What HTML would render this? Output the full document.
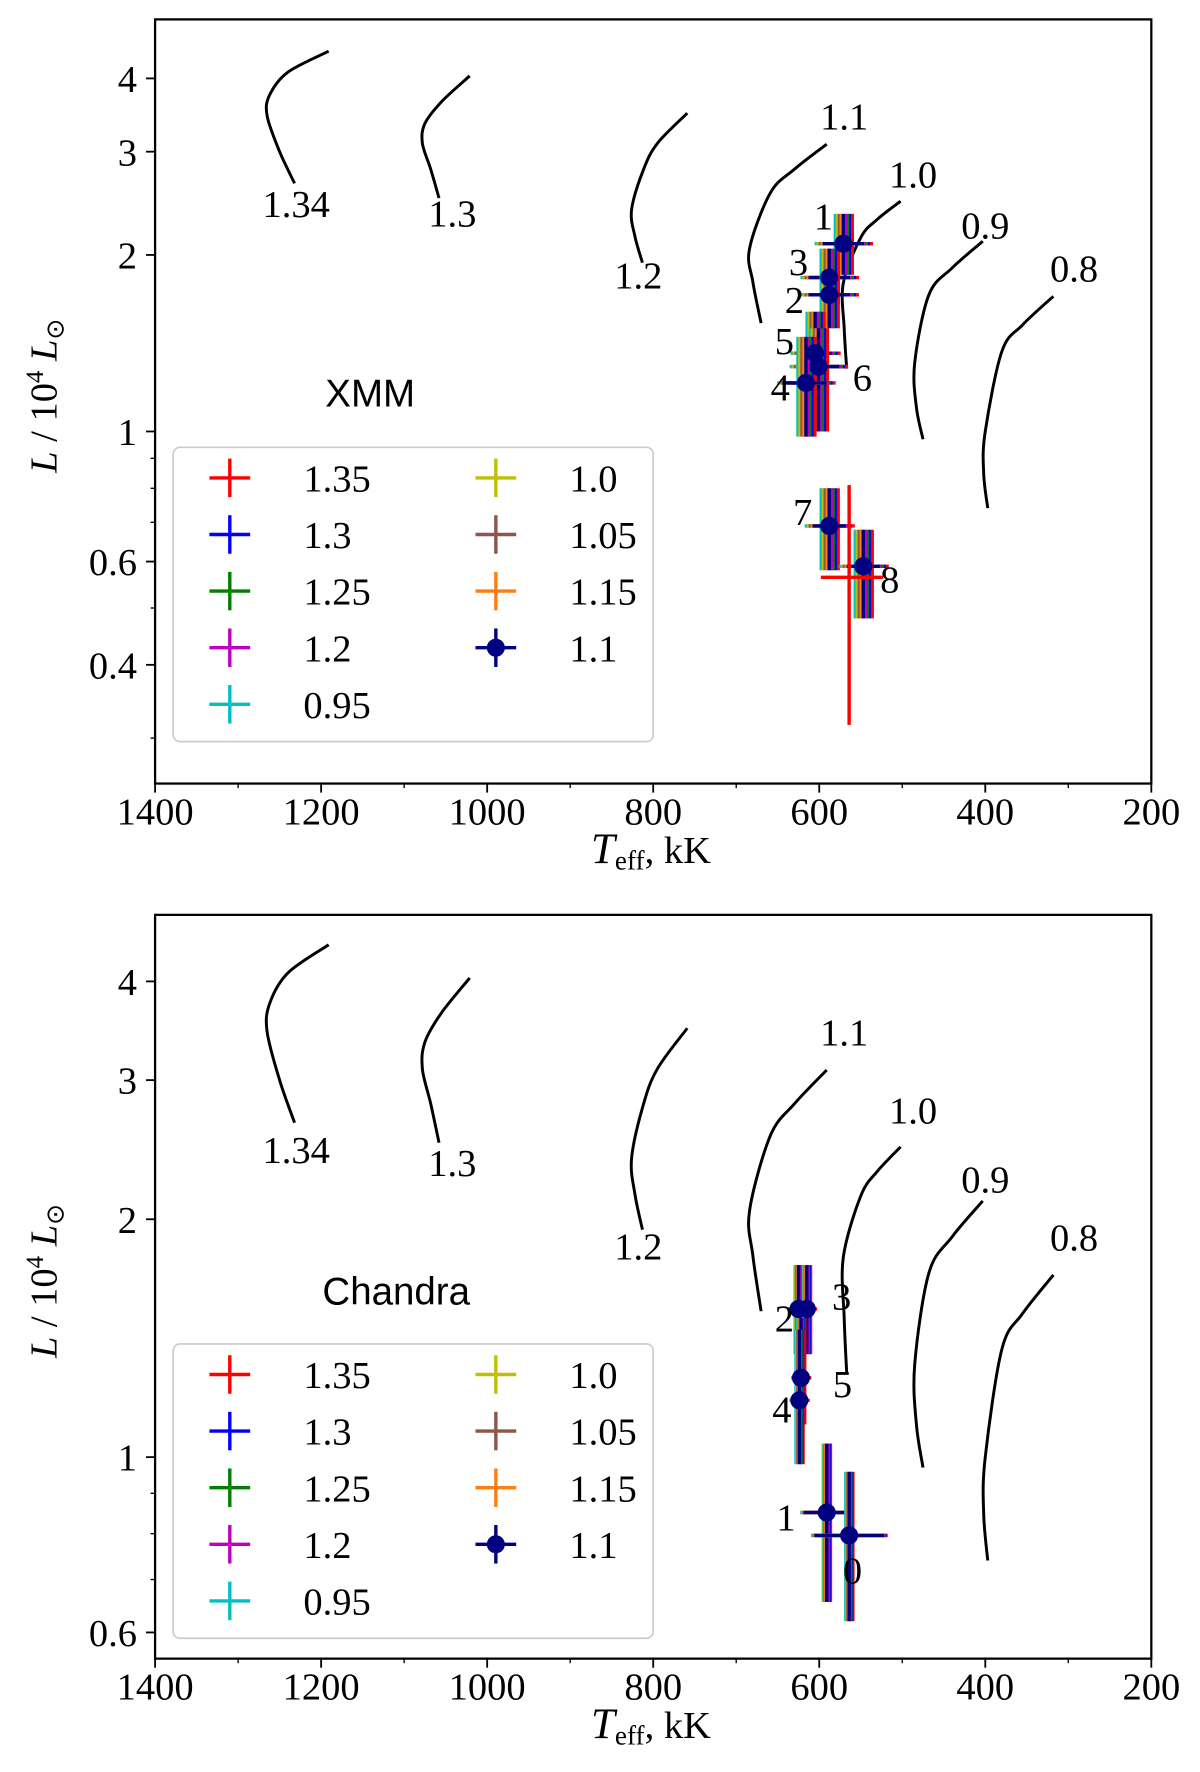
<!DOCTYPE html>
<html><head><meta charset="utf-8">
<style>
html,body{margin:0;padding:0;background:#fff;}
svg{display:block;}
.tk{font-family:"Liberation Serif",serif;font-size:34px;fill:#000;}
.lab{font-family:"Liberation Serif",serif;font-size:34px;fill:#000;}
.ss{font-family:"Liberation Sans",sans-serif;font-size:34px;fill:#000;}
</style></head>
<body>
<svg id="fig" width="1200" height="1772" viewBox="0 0 1060 1565" xmlns="http://www.w3.org/2000/svg"></svg>
<script>
const models=['1.35','1.3','1.25','1.2','0.95','1.0','1.05','1.15','1.1'];
const modelColors=['#ff0000','#0000ff','#008000','#c000c0','#00c0c0','#c0c000','#8c564b','#ff7f0e','#000080'];
const modelTShift=[-18,-12,-8,-4,16,12,8,4,0];
const trackNames=['1.34','1.3','1.2','1.1','1.0','0.9','0.8'];
const trackT=[[1191,1240,1262,1265,1250,1232],[1021,1055,1075,1078,1068,1058],[759,795,812,826,822,813],[591,630,659,684,680,670],[502,530,550,571,570,567],[403,440,468,485,483,475],[318,355,380,400,402,397]];
const trackL=[[4.45,4.1,3.75,3.45,3.0,2.65],[4.04,3.65,3.35,3.1,2.8,2.5],[3.49,3.1,2.79,2.39,2.15,1.94],[3.09,2.8,2.55,2.05,1.8,1.53],[2.47,2.3,2.14,1.79,1.5,1.28],[2.11,1.9,1.71,1.31,1.1,0.97],[1.7,1.52,1.37,1.0,0.85,0.74]];
const trackLabT=[1230,1042,818,570,487,400,293];
const trackLabL=[2.45,2.36,1.85,3.45,2.75,2.25,1.9];
// XMM
const xmmIds=['1','3','2','5','6','4','7','8'];
const xmmT=[571,588,588,605,601,616,588,547];
const xmmL=[2.09,1.83,1.71,1.36,1.29,1.21,0.69,0.589];
const xmmLhi=[2.35,2.05,1.95,1.6,1.5,1.45,0.8,0.68];
const xmmLlo=[1.85,1.65,1.5,1.05,1.0,0.98,0.58,0.48];
const xmmTerr=[25,25,25,20,25,25,20,20];
const xmmLabT=[595,625,630,642,548,647,620,515];
const xmmLabL=[2.33,1.95,1.68,1.43,1.24,1.19,0.73,0.56];
const xmmRedT=564, xmmRedL=0.564, xmmRedLhi=0.81, xmmRedLlo=0.316, xmmRedTlo=523, xmmRedThi=598;
// Chandra
const chIds=['2','3','5','4','1','0'];
const chT=[625,615,622,624,591,564];
const chL=[1.54,1.54,1.26,1.18,0.851,0.796];
const chLhi=[1.75,1.75,1.5,1.45,1.04,0.958];
const chLlo=[1.35,1.35,1.1,0.98,0.656,0.62];
const chTerr=[8,8,8,8,28,42];
const chLabT=[642,573,572,645,640,560];
const chLabL=[1.5,1.6,1.24,1.15,0.84,0.72];
const xTicks=[1400,1200,1000,800,600,400,200];
const xMinor=[1300,1100,900,700,500,300];
const yTicksTop=[0.4,0.6,1,2,3,4];
const yTicksBot=[0.6,1,2,3,4];
const yMinorAll=[0.3,0.5,0.7,0.8,0.9];

const NS='http://www.w3.org/2000/svg';
const svg=document.getElementById('fig');
function mk(tag,attrs,parent,name,inter){const e=document.createElementNS(NS,tag);for(const k in attrs)e.setAttribute(k,attrs[k]);


(parent||svg).appendChild(e);return e;}
function txt(s,x,y,cls,parent,name,anchor){const t=mk('text',{x:x,y:y,class:cls,'text-anchor':anchor||'middle'},parent,name,false);t.textContent=s;return t;}
function smooth(pts){let d='M'+pts[0][0].toFixed(1)+','+pts[0][1].toFixed(1);
  for(let i=0;i<pts.length-1;i++){const p0=pts[Math.max(i-1,0)],p1=pts[i],p2=pts[i+1],p3=pts[Math.min(i+2,pts.length-1)];
    const c1=[p1[0]+(p2[0]-p0[0])/6,p1[1]+(p2[1]-p0[1])/6],c2=[p2[0]-(p3[0]-p1[0])/6,p2[1]-(p3[1]-p1[1])/6];
    d+=' C'+c1[0].toFixed(1)+','+c1[1].toFixed(1)+' '+c2[0].toFixed(1)+','+c2[1].toFixed(1)+' '+p2[0].toFixed(1)+','+p2[1].toFixed(1);}
  return d;}

function panel(o){
  const g=mk('g',{},svg,o.name,false);
  const L=137,R=1017;
  const X=t=>L+(1400-t)/1200*(R-L);
  const Y=v=>o.y1+(Math.log10(v))*-o.ppd;
  trackT.forEach((ts,i)=>{
    const pts=ts.map((t,j)=>[X(t),Y(trackL[i][j])]);
    mk('path',{d:smooth(pts),fill:'none',stroke:'#000','stroke-width':2.6},g,'track-'+trackNames[i],false);
    txt(trackNames[i],X(trackLabT[i]),Y(trackLabL[i])+12,'lab',g,'track-label-'+trackNames[i]);
  });
  const groups=o.T.map((t,p)=>mk('g',{},g,'point-'+o.ids[p],false));
  o.T.forEach((t,p)=>{
    models.forEach((m,k)=>{
      const tt=t+(o.shift?modelTShift[k]*o.shift:0);
      const c=modelColors[k];
      mk('line',{x1:X(tt),x2:X(tt),y1:Y(o.Lhi[p]),y2:Y(o.Llo[p]),stroke:c,'stroke-width':3},groups[p],'errbar-v-'+m,false);
      mk('line',{x1:X(tt+o.Terr[p]),x2:X(tt-o.Terr[p]),y1:Y(o.L[p]),y2:Y(o.L[p]),stroke:c,'stroke-width':3},groups[p],'errbar-h-'+m,false);
    });
  });
  if(o.red){const rg=mk('g',{},g,'outlier-1.35',false);
    mk('line',{x1:X(xmmRedT),x2:X(xmmRedT),y1:Y(xmmRedLhi),y2:Y(xmmRedLlo),stroke:'#f00','stroke-width':3},rg,'errbar-v',false);
    mk('line',{x1:X(xmmRedThi),x2:X(xmmRedTlo),y1:Y(xmmRedL),y2:Y(xmmRedL),stroke:'#f00','stroke-width':3},rg,'errbar-h',false);}
  o.T.forEach((t,p)=>{
    mk('circle',{cx:X(t),cy:Y(o.L[p]),r:8,fill:modelColors[8]},g,'marker-1.1-'+o.ids[p],false);
    txt(o.ids[p],X(o.labT[p]),Y(o.labL[p])+12,'lab',g,'point-label-'+o.ids[p]);
  });
  mk('rect',{x:L,y:o.top,width:R-L,height:o.bot-o.top,fill:'none',stroke:'#000','stroke-width':2},g,'plot-frame',false);
  xTicks.forEach(t=>{mk('line',{x1:X(t),x2:X(t),y1:o.bot,y2:o.bot+8,stroke:'#000','stroke-width':1.6},g,'x-tick',false);
    txt(String(t),X(t),o.bot+36,'tk',g,'x-tick-label');});
  xMinor.forEach(t=>mk('line',{x1:X(t),x2:X(t),y1:o.bot,y2:o.bot+4,stroke:'#000','stroke-width':1.2},g,'x-minor-tick',false));
  o.yt.forEach(v=>{mk('line',{x1:L-8,x2:L,y1:Y(v),y2:Y(v),stroke:'#000','stroke-width':1.6},g,'y-tick',false);
    txt(String(v),L-16,Y(v)+12,'tk',g,'y-tick-label','end');});
  yMinorAll.forEach(v=>{const y=Y(v);if(y<o.bot&&y>o.top&&o.yt.indexOf(v)<0)mk('line',{x1:L-4,x2:L,y1:y,y2:y,stroke:'#000','stroke-width':1.2},g,'y-minor-tick',false);});
  const xl=mk('text',{x:575,y:o.bot+70,class:'lab','text-anchor':'middle','font-size':36},g,'x-axis-title',false);
  xl.innerHTML='<tspan font-style="italic" font-size="38">T</tspan><tspan font-size="24" dy="6">eff</tspan><tspan dy="-6">, kK</tspan>';
  const yl=mk('text',{x:0,y:0,class:'lab','text-anchor':'middle',transform:'translate(50,'+((o.top+o.bot)/2-5)+') rotate(-90)'},g,'y-axis-title',false);
  yl.innerHTML='<tspan font-style="italic">L</tspan> / 10<tspan font-size="22" dy="-12">4</tspan><tspan dy="12"> </tspan><tspan font-style="italic">L</tspan><tspan font-size="22" dy="6">⊙</tspan>';
  txt(o.title,o.titleX,o.titleY,'ss',g,'panel-title');
  const lg=mk('g',{},g,'legend',false);
  mk('rect',{x:153,y:o.legY,width:424,height:260,rx:6,fill:'#fff','fill-opacity':0.8,stroke:'#ccc','stroke-width':1.5},lg,'legend-box',false);
  models.forEach((m,k)=>{
    const col=k<5?0:1, row=k<5?k:k-5;
    const mx=col?438:203, tx=col?503:268, y=o.legY+27+row*50;
    const eg=mk('g',{},lg,'legend-entry-'+m,false);
    mk('line',{x1:mx-18,x2:mx+18,y1:y,y2:y,stroke:modelColors[k],'stroke-width':3},eg,'legend-h',false);
    mk('line',{x1:mx,x2:mx,y1:y-17,y2:y+17,stroke:modelColors[k],'stroke-width':3},eg,'legend-v',false);
    if(k===8)mk('circle',{cx:mx,cy:y,r:8,fill:modelColors[k]},eg,'legend-marker',false);
    txt(m,tx,y+12,'lab',eg,'legend-label','start');
  });
}
panel({name:'xmm-panel',top:17,bot:692,y1:381,ppd:518,yt:yTicksTop,ids:xmmIds,T:xmmT,L:xmmL,Lhi:xmmLhi,Llo:xmmLlo,Terr:xmmTerr,labT:xmmLabT,labL:xmmLabL,shift:0.6,red:true,title:'XMM',titleX:327,titleY:359,legY:395});
panel({name:'chandra-panel',top:808,bot:1465,y1:1287,ppd:698,yt:yTicksBot,ids:chIds,T:chT,L:chL,Lhi:chLhi,Llo:chLlo,Terr:chTerr,labT:chLabT,labL:chLabL,shift:0.25,red:false,title:'Chandra',titleX:350,titleY:1152,legY:1187});
</script>
</body></html>
